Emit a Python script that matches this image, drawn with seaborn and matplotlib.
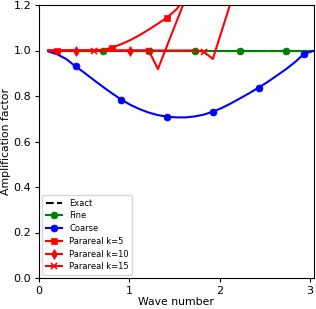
import matplotlib
matplotlib.use("Agg")
import matplotlib.pyplot as plt
import seaborn as sns
import pandas as pd

# wave numbers k*pi/31, k=1..30
wave = [0.101, 0.203, 0.304, 0.405, 0.507, 0.608, 0.709, 0.811, 0.912, 1.013,
        1.115, 1.216, 1.317, 1.419, 1.520, 1.621, 1.723, 1.824, 1.925, 2.027,
        2.128, 2.229, 2.331, 2.432, 2.533, 2.635, 2.736, 2.838, 2.939, 3.040]

exact = [1.0] * 30
fine = [1.0] * 30
coarse = [0.996, 0.983, 0.962, 0.930, 0.901, 0.870, 0.840, 0.811, 0.784, 0.761,
          0.742, 0.727, 0.716, 0.709, 0.706, 0.706, 0.710, 0.718, 0.731, 0.748,
          0.768, 0.790, 0.813, 0.837, 0.862, 0.890, 0.918, 0.950, 0.986, 0.998]
para5 = [1.0, 1.0, 1.0, 1.0, 1.0, 1.0, 1.003, 1.013, 1.028, 1.046,
         1.068, 1.092, 1.118, 1.145, 1.180, 1.230, 1.30, 1.40, 1.52, 1.65,
         1.80, 1.95, 2.10, 2.25, 2.40, 2.55, 2.70, 2.85, 3.00, 3.15]
para10 = [1.0, 1.0, 1.0, 1.0, 1.0, 1.0, 1.0, 1.0, 1.0, 1.0,
          1.0, 1.0, 0.918, 1.022, 1.124, 1.226, 1.40, 1.60, 1.80, 2.00,
          2.20, 2.40, 2.60, 2.80, 3.00, 3.20, 3.40, 3.60, 3.80, 4.00]
para15 = [1.0, 1.0, 1.0, 1.0, 1.0, 1.0, 1.0, 1.0, 1.0, 1.0,
          1.0, 1.0, 1.0, 1.0, 1.0, 1.0, 1.0, 0.995, 0.963, 1.090,
          1.217, 1.40, 1.60, 1.80, 2.00, 2.20, 2.40, 2.60, 2.80, 3.00]

series = [
    ("Exact", exact, "black", None, "--", None),
    ("Fine", fine, "green", "o", "-", (6, 5)),
    ("Coarse", coarse, "blue", "o", "-", (3, 5)),
    ("Parareal k=5", para5, "red", "s", "-", (1, 6)),
    ("Parareal k=10", para10, "red", "d", "-", (3, 6)),
    ("Parareal k=15", para15, "red", "x", "-", (5, 6)),
]

fig = plt.figure(figsize=(3.16, 3.09), dpi=100)
ax = fig.add_axes([39 / 316, 1 - 278 / 309, 274.5 / 316, 273 / 309])

for name, vals, col, mk, ls, me in series:
    df = pd.DataFrame({"wave": wave, "amp": vals})
    kw = dict(color=col, linestyle=ls, linewidth=1.5, label=name, ax=ax)
    if mk is not None:
        kw.update(marker=mk, markevery=me, markersize=5,
                  markeredgewidth=1.2 if mk == "x" else 0.5,
                  markeredgecolor=col)
    sns.lineplot(data=df, x="wave", y="amp", sort=False, estimator=None, **kw)

ax.set_xlim(0, 3.04)
ax.set_ylim(0.0, 1.2)
ax.set_xticks([0, 1, 2, 3])
ax.set_yticks([0.0, 0.2, 0.4, 0.6, 0.8, 1.0, 1.2])
ax.tick_params(labelsize=8, length=3, width=0.8, pad=2.5)
ax.set_xlabel("Wave number", fontsize=7.8, labelpad=1)
ax.set_ylabel("Amplification factor", fontsize=7.8, labelpad=2)
ax.legend(loc="lower left", fontsize=6, handlelength=2.0, borderaxespad=0.4,
          framealpha=0.8, labelspacing=0.45)

fig.savefig("out.png", dpi=100)
